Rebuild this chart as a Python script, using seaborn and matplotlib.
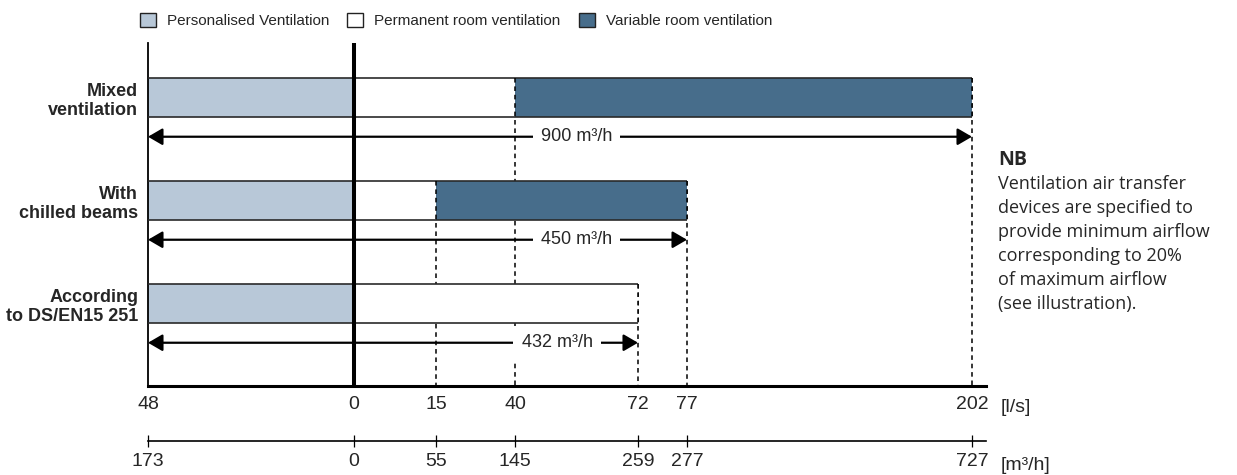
import numpy as np
import pandas as pd
import matplotlib
matplotlib.use("Agg")
import matplotlib.pyplot as plt
import seaborn as sns
from matplotlib.patches import Patch

# airflow per workplace solution, in l/s
categories = ["Mixed\nventilation", "With\nchilled beams", "According\nto DS/EN15 251"]
personalised = [48, 48, 48]
permanent = [40, 15, 72]
variable = [162, 62, 0]
total_labels = ["900 m³/h", "450 m³/h", "432 m³/h"]

tick_ls = [-48, 0, 15, 40, 72, 77, 202]
tick_ls_labels = ["48", "0", "15", "40", "72", "77", "202"]
tick_m3h_labels = ["173", "0", "55", "145", "259", "277", "727"]

series_names = ["Personalised Ventilation", "Permanent room ventilation", "Variable room ventilation"]
colors = ["#b8c8d8", "#ffffff", "#476d8b"]

nb_title = "NB"
nb_text = ("Ventilation air transfer\ndevices are specified to\nprovide minimum airflow\n"
           "corresponding to 20%\nof maximum airflow\n(see illustration).")

# the original drawing is schematic: ticks are not spaced proportionally.
# pixel position of each tick in the drawing, used to build a piecewise scale
tick_px = [148, 354, 436, 515, 638, 687, 972]
label_x = [56, 56, 51]   # where the total label sits on each arrow (l/s)
W, H = 1237, 475
bar_h = 0.38


def extrap(x, xp, fp):
    x = np.asarray(x, dtype=float)
    y = np.interp(x, xp, fp)
    lo = (fp[1] - fp[0]) / (xp[1] - xp[0])
    hi = (fp[-1] - fp[-2]) / (xp[-1] - xp[-2])
    y = np.where(x < xp[0], fp[0] + (x - xp[0]) * lo, y)
    y = np.where(x > xp[-1], fp[-1] + (x - xp[-1]) * hi, y)
    return y


def fwd(x):
    return extrap(x, tick_ls, tick_px)


def inv(x):
    return extrap(x, tick_px, tick_ls)


sns.set_theme(style="white")
plt.rcParams["font.family"] = ["Liberation Sans", "DejaVu Sans"]

pers = -np.array(personalised, dtype=float)
perm = np.array(permanent, dtype=float)
var = np.array(variable, dtype=float)
ends = perm + var
df = pd.DataFrame({
    "cat": categories,
    "pers": pers,
    "perm": perm,
    "var_end": np.where(var > 0, ends, np.nan),
})

fig = plt.figure(figsize=(W / 100, H / 100), dpi=100)
ax = fig.add_axes([148 / W, 1 - 386 / H, (986 - 148) / W, (386 - 43) / H])

# stacked bars drawn as layers: variable end, then permanent, then personalised
sns.barplot(data=df, x="var_end", y="cat", order=categories, orient="y", color=colors[2],
            saturation=1, width=bar_h, linewidth=0, ax=ax, zorder=2)
sns.barplot(data=df, x="perm", y="cat", order=categories, orient="y", color=colors[1],
            saturation=1, width=bar_h, linewidth=0, ax=ax, zorder=2)
sns.barplot(data=df, x="pers", y="cat", order=categories, orient="y", color=colors[0],
            saturation=1, width=bar_h, linewidth=0, ax=ax, zorder=2)

ax.set_xscale("function", functions=(fwd, inv))
ax.set_xlim(-48, float(inv(986)))
ax.set_ylim(2.80, -0.53)

ypos = np.arange(len(categories))
for i in ypos:
    # top / bottom outline
    ax.hlines([i - bar_h / 2, i + bar_h / 2], pers[i], ends[i], color="#2a2a2a", lw=1.2, zorder=3)
    # dashed guides from segment boundaries down to the axis
    bounds = [perm[i]] + ([ends[i]] if var[i] > 0 else [])
    for b in bounds:
        ax.vlines(b, i - bar_h / 2, 2.80, color="black", lw=1.1, ls=(0, (3, 2.5)), zorder=1)
        ax.vlines(b, i - bar_h / 2, i + bar_h / 2, color="black", lw=1.1, ls=(0, (3, 2.5)), zorder=3)
    # total airflow arrow
    ya = i + 0.38
    ax.annotate("", xy=(ends[i], ya), xytext=(pers[i], ya),
                arrowprops=dict(arrowstyle="<|-|>,head_length=0.55,head_width=0.32",
                                color="black", lw=1.6, mutation_scale=16,
                                shrinkA=0, shrinkB=0), zorder=4)
    ax.text(label_x[i], ya, total_labels[i], ha="center", va="center", fontsize=13,
            bbox=dict(fc="white", ec="none", pad=6), zorder=5)

ax.axvline(0, color="black", lw=2.9, zorder=6)

for s in ["top", "right"]:
    ax.spines[s].set_visible(False)
ax.spines["left"].set_linewidth(1.3)
ax.spines["left"].set_color("black")
ax.spines["bottom"].set_linewidth(2.2)
ax.spines["bottom"].set_color("black")

ax.set_xticks(tick_ls)
ax.set_xticklabels(tick_ls_labels, fontsize=14)
ax.tick_params(axis="x", length=0, pad=7)
ax.set_yticks(ypos)
ax.set_yticklabels(categories, fontsize=13, fontweight="bold")
ax.tick_params(axis="y", length=0, pad=7)
ax.set_xlabel("")
ax.set_ylabel("")

# second scale in m3/h below
ax2 = ax.twiny()
ax2.set_xscale("function", functions=(fwd, inv))
ax2.set_xlim(ax.get_xlim())
ax2.xaxis.set_ticks_position("bottom")
ax2.spines["bottom"].set_position(("outward", 55 * 0.72))
for s in ["top", "right", "left"]:
    ax2.spines[s].set_visible(False)
ax2.spines["bottom"].set_linewidth(1.2)
ax2.spines["bottom"].set_color("black")
ax2.patch.set_visible(False)
ax2.set_xticks(tick_ls)
ax2.set_xticklabels(tick_m3h_labels, fontsize=14)
ax2.tick_params(axis="x", direction="inout", length=9, width=0.9, color="black", pad=4,
                bottom=True, top=False, labelbottom=True, labeltop=False)

fig.text(1001 / W, 1 - 408 / H, "[l/s]", fontsize=14, va="center", ha="left")
fig.text(1001 / W, 1 - 465 / H, "[m³/h]", fontsize=14, va="center", ha="left")

# note at the right
fig.text(998 / W, 1 - 160 / H, nb_title, fontsize=14, fontweight="bold",
         family=["Open Sans", "DejaVu Sans"], va="center", ha="left")
fig.text(998 / W, 1 - 175 / H, nb_text, fontsize=13, family=["Open Sans", "DejaVu Sans"],
         va="top", ha="left", linespacing=1.43)

handles = [Patch(facecolor=c, edgecolor="#222222", lw=1.0) for c in colors]
fig.legend(handles, series_names, loc="upper left", bbox_to_anchor=(140 / W, 1 - 13 / H),
           ncol=3, frameon=False, fontsize=11, handlelength=1.05, handleheight=1.05,
           handletextpad=0.7, columnspacing=1.2, borderaxespad=0, borderpad=0)

fig.savefig("out.png", dpi=100)
